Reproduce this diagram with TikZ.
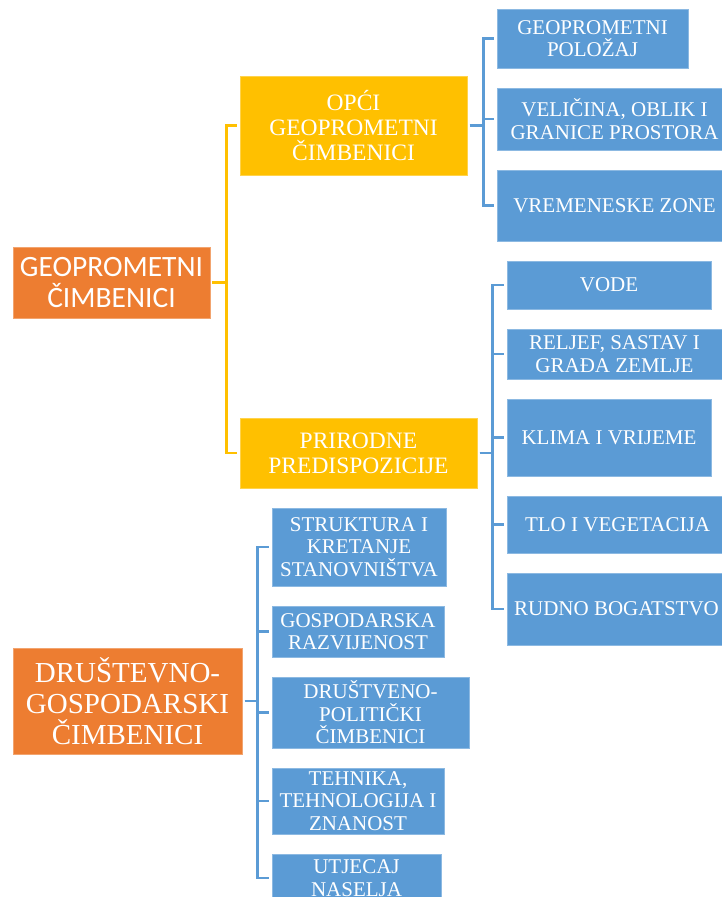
\documentclass[tikz,border=0pt]{standalone}
\usepackage{fontspec}
\setmainfont{Liberation Serif}
\newfontfamily\calfont{Carlito}
\definecolor{orng}{HTML}{ED7D31}
\definecolor{gold}{HTML}{FFC000}
\definecolor{sblue}{HTML}{5B9BD5}
\tikzset{
  base/.style={inner sep=0pt, align=center, text=white, line width=0.8pt},
  rootbox/.style={base, fill=orng, draw=orng!70!white},
  midbox/.style={base, fill=gold, draw=gold!70!white, font=\fontsize{23.5}{25}\selectfont},
  leafbox/.style={base, fill=sblue, draw=sblue!70!white, font=\fontsize{21}{22.5}\selectfont},
  yline/.style={draw=gold, line width=2.6pt, shorten <=2pt, shorten >=2.5pt},
  bline/.style={draw=sblue, line width=2.6pt, shorten <=2.5pt, shorten >=2.5pt},
}
\begin{document}
\begin{tikzpicture}[x=1pt,y=-1pt]
\useasboundingbox (0,0) rectangle (722,897);
\clip (0,0) rectangle (722,897);
% roots
\node[rootbox, minimum width=197pt, minimum height=71pt, font=\calfont\fontsize{29.5}{31}\selectfont] (root) at (111.5,282.5) {GEOPROMETNI\\ČIMBENICI};
\node[rootbox, minimum width=229pt, minimum height=106pt, font=\fontsize{29}{31}\selectfont] (dru) at (127.5,701) {DRUŠTEVNO-\\GOSPODARSKI\\ČIMBENICI};
% middle
\node[midbox, minimum width=227pt, minimum height=99pt] (opci) at (353.5,125.5) {OPĆI\\GEOPROMETNI\\ČIMBENICI};
\node[midbox, minimum width=237pt, minimum height=70pt] (prir) at (358.5,453) {PRIRODNE\\PREDISPOZICIJE};
% leaves of OPCI
\node[leafbox, minimum width=191pt, minimum height=59pt] (pol) at (592.5,38.5) {GEOPROMETNI\\POLOŽAJ};
\node[leafbox, minimum width=235pt, minimum height=62pt] (vel) at (614.5,119) {VELIČINA, OBLIK I\\GRANICE PROSTORA};
\node[leafbox, minimum width=235pt, minimum height=71pt] (vrem) at (614.5,205.5) {VREMENESKE ZONE};
% leaves of PRIRODNE
\node[leafbox, minimum width=204pt, minimum height=48pt] (vode) at (609,285) {VODE};
\node[leafbox, minimum width=215pt, minimum height=50pt] (rel) at (614.5,354) {RELJEF, SASTAV I\\GRAĐA ZEMLJE};
\node[leafbox, minimum width=204pt, minimum height=77pt] (klima) at (609,437.5) {KLIMA I VRIJEME};
\node[leafbox, minimum width=221pt, minimum height=57pt] (tlo) at (617.5,524.5) {TLO I VEGETACIJA};
\node[leafbox, minimum width=219pt, minimum height=72pt] (rudno) at (616.5,609) {RUDNO BOGATSTVO};
% leaves of DRUSTEVNO
\node[leafbox, minimum width=174pt, minimum height=78pt] (str) at (359,547) {STRUKTURA I\\KRETANJE\\STANOVNIŠTVA};
\node[leafbox, minimum width=172pt, minimum height=51pt] (gos) at (358,631.5) {GOSPODARSKA\\RAZVIJENOST};
\node[leafbox, minimum width=197pt, minimum height=71pt] (dpol) at (370.5,712.5) {DRUŠTVENO-\\POLITIČKI\\ČIMBENICI};
\node[leafbox, minimum width=172pt, minimum height=66pt] (teh) at (358,801) {TEHNIKA,\\TEHNOLOGIJA I\\ZNANOST};
\node[leafbox, minimum width=169pt, minimum height=48pt] (utj) at (356.5,878) {UTJECAJ\\NASELJA};
% connectors
\foreach \c in {opci,prir}
  \draw[yline] (root.east) -- ++(16,0) |- (\c.west);
\foreach \c in {pol,vel,vrem}
  \draw[bline] (opci.east) -- ++(16,0) |- (\c.west);
\foreach \c in {vode,rel,klima,tlo,rudno}
  \draw[bline] (prir.east) -- ++(15,0) |- (\c.west);
\foreach \c in {str,gos,dpol,teh,utj}
  \draw[bline] (dru.east) -- ++(15,0) |- (\c.west);
\end{tikzpicture}
\end{document}
